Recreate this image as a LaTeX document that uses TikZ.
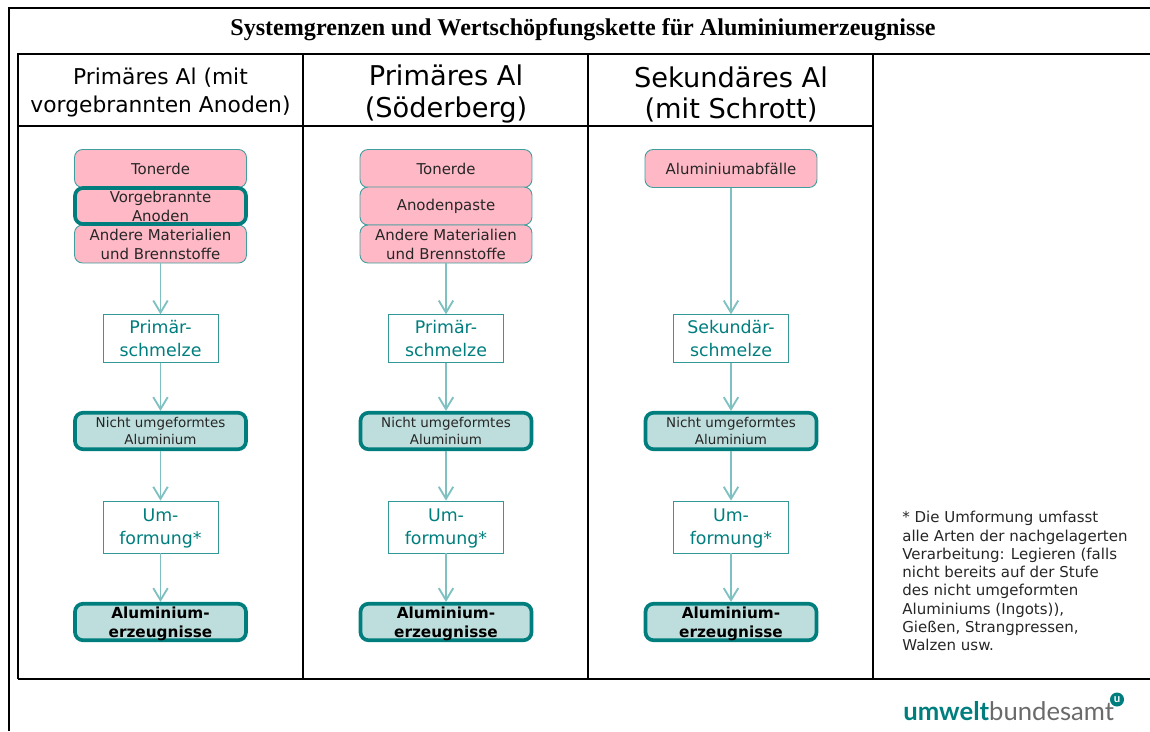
\documentclass[tikz,border=0pt]{standalone}
\usepackage{fontspec}
\setmainfont{DejaVu Sans}
\newfontfamily\titlefont{Liberation Serif}
\newfontfamily\logofont{Lato}
\usetikzlibrary{arrows.meta}
\definecolor{uba}{HTML}{007E7E}
\definecolor{ubalight}{HTML}{7FC0C0}
\definecolor{rawpink}{HTML}{FFB9C6}
\definecolor{prodfill}{HTML}{BDDEDC}
\definecolor{logogray}{HTML}{6A6A6A}
\tikzset{
  frame/.style={line width=1pt},
  rule/.style={line width=0.7pt},
  rawbox/.style={draw=uba!75, fill=rawpink, rounded corners=1.6mm, line width=0.5pt, minimum width=3.44cm, minimum height=0.76cm, inner sep=0pt, align=center, font=\fontsize{8.5}{10.8}\selectfont, text=black!85},
  anodebox/.style={rawbox, draw=uba, line width=2.1pt, minimum width=3.42cm, minimum height=0.72cm},
  stepbox/.style={draw=uba!80, fill=white, line width=0.5pt, minimum width=2.3cm, minimum height=0.95cm, inner sep=0pt, align=center, text=uba, font=\fontsize{9.9}{13}\selectfont},
  metalbox/.style={draw=uba, fill=prodfill, rounded corners=1.6mm, line width=2.1pt, minimum width=3.42cm, minimum height=0.73cm, inner sep=0pt, align=center, text=black!85, font=\fontsize{7.65}{9.2}\selectfont},
  prodbox/.style={metalbox, text=black, text depth=0pt, font=\fontsize{8.7}{10.8}\selectfont\bfseries},
  flow/.style={draw=ubalight, line width=1.1pt, -{Straight Barb[length=2.4mm,width=2.9mm,line width=1.05pt]}},
}
\begin{document}
\begin{tikzpicture}[x=0.02cm, y=-0.02cm]
  \useasboundingbox (0,0) rectangle (1150,731);

  % frame and table
  \draw[frame] (9,731) -- (9,8) -- (1150,8);
  \draw[rule] (18,679) -- (18,54) -- (1150,54);
  \draw[rule] (18,679) -- (1150,679);
  \draw[rule] (18,126) -- (873,126);
  \foreach \x in {303,588,873}
    \draw[rule] (\x,54) -- (\x,679);

  \node (title) at (583,29.5) {\titlefont\bfseries\fontsize{13.72}{16}\selectfont Systemgrenzen und Wertschöpfungskette für Aluminiumerzeugnisse};

  \node[align=center, font=\fontsize{12.4}{15.9}\selectfont] (head1) at (160.5,92.5) {Primäres Al (mit\\vorgebrannten Anoden)};
  \node[align=center, font=\fontsize{15.5}{17.7}\selectfont] (head2) at (446,94) {Primäres Al\\(Söderberg)};
  \node[align=center, font=\fontsize{15.5}{17.7}\selectfont] (head3) at (731,94) {Sekundäres Al\\(mit Schrott)};

  % raw materials
  \node[rawbox] (toner1) at (160.5,168.5) {Tonerde};
  \node[rawbox] (other1) at (160.5,244) {Andere Materialien\\und Brennstoffe};
  \node[anodebox] (anode1) at (160.5,206) {Vorgebrannte\\Anoden};

  \node[rawbox] (toner2) at (446,168.5) {Tonerde};
  \node[rawbox] (paste2) at (446,206) {Anodenpaste};
  \node[rawbox] (other2) at (446,244) {Andere Materialien\\und Brennstoffe};

  \node[rawbox] (scrap3) at (731,168.5) {Aluminiumabfälle};

  % the steps of each column
  \foreach \c/\x/\melt in {1/160.5/Primär-\\schmelze, 2/446/Primär-\\schmelze, 3/731/Sekundär-\\schmelze} {
    \node[stepbox] (melt\c) at (\x,338.5) {\melt};
    \node[metalbox] (metal\c) at (\x,431) {Nicht umgeformtes\\Aluminium};
    \node[stepbox, minimum height=1.04cm, text depth=0pt] (form\c) at (\x,527) {Um-\\formung*};
    \node[prodbox] (prod\c) at (\x,622) {Aluminium-\\erzeugnisse};
    \draw[flow] (melt\c) -- (metal\c);
    \draw[flow] (metal\c) -- (form\c);
    \draw[flow] (form\c) -- (prod\c);
  }
  \draw[flow] (other1) -- (melt1);
  \draw[flow] (other2) -- (melt2);
  \draw[flow] (scrap3) -- (melt3);

  \node[anchor=north west, inner sep=0pt, align=left, text=black!85, font=\fontsize{8.54}{10.4}\selectfont] (note) at (902,511) {* Die Umformung umfasst\\alle Arten der nachgelagerten\\Verarbeitung: Legieren (falls\\nicht bereits auf der Stufe\\des nicht umgeformten\\Aluminiums (Ingots)),\\Gießen, Strangpressen,\\Walzen usw.};

  % logo
  \node[anchor=base west, inner sep=0pt, font=\logofont\fontsize{14.6}{16}\selectfont] (logo) at (903,720) {\textcolor{uba}{\bfseries umwelt}\textcolor{logogray}{bundesamt}};
  \node[circle, fill=uba, text=white, inner sep=0pt, minimum size=0.28cm, font=\logofont\bfseries\fontsize{6.5}{6}\selectfont] (logomark) at (1117,699.5) {u};
\end{tikzpicture}
\end{document}
